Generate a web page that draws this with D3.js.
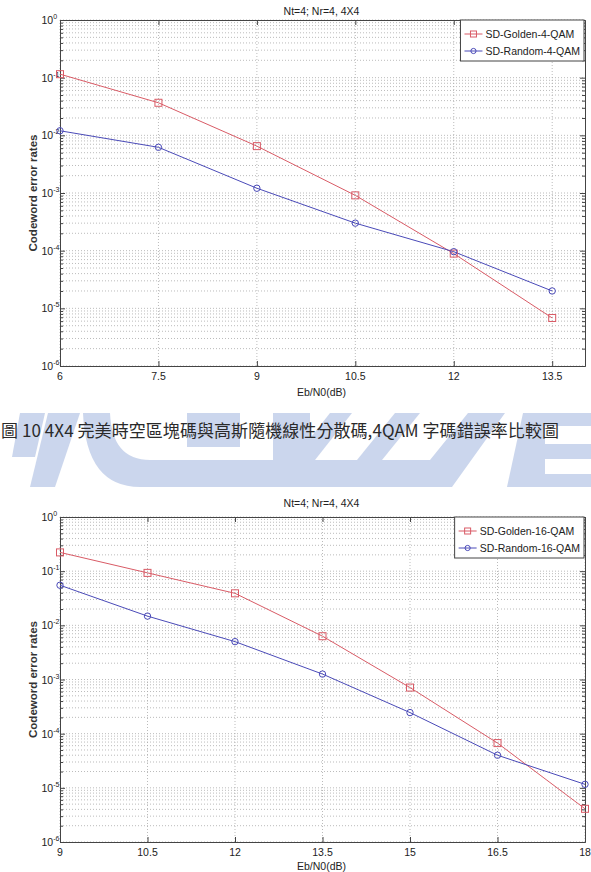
<!DOCTYPE html>
<html>
<head>
<meta charset="utf-8">
<script src="https://cdn.jsdelivr.net/npm/d3@7"></script>
<style>
  html, body { margin: 0; padding: 0; background: #fff; }
  svg { display: block; }
</style>
</head>
<body>
<div id="page"></div>
<script>
// ---- data ----
const snr4 = [6, 7.5, 9, 10.5, 12, 13.5];
const golden4 = [0.115, 0.0367, 0.0065, 9.1e-4, 8.9e-5, 6.8e-6];
const random4 = [0.012, 0.0062, 1.21e-3, 3.0e-4, 9.6e-5, 2.0e-5];
const xTicks4 = [6, 7.5, 9, 10.5, 12, 13.5];

const snr16 = [9, 10.5, 12, 13.5, 15, 16.5, 18];
const golden16 = [0.222, 0.093, 0.039, 0.0063, 7.1e-4, 6.7e-5, 4.1e-6];
const random16 = [0.055, 0.0148, 0.0050, 1.26e-3, 2.45e-4, 4.0e-5, 1.16e-5];
const xTicks16 = [9, 10.5, 12, 13.5, 15, 16.5, 18];

const yExponents = [0, -1, -2, -3, -4, -5, -6];
const chartTitle = "Nt=4; Nr=4, 4X4";
const xLabel = "Eb/N0(dB)";
const yLabel = "Codeword error rates";
const caption = "圖 10 4X4 完美時空區塊碼與高斯隨機線性分散碼,4QAM 字碼錯誤率比較圖";

const W = 591, H = 872;
const sans = "'Liberation Sans', Arial, sans-serif";

const svg = d3.select("#page").append("svg")
  .attr("width", W)
  .attr("height", H);

// faint logo watermark behind the caption
const wm = svg.append("g").attr("fill", "#bfcde9").attr("opacity", 0.8);
[
  "M20,413 L45,413 L35,457 L12,457 Z",
  "M48,413 L80,413 L55,487 L30,487 Z",
  "M83,413 L110,413 Q112,460 150,460 L430,460 L468,413 L505,413 L452,487 L140,487 Q86,487 83,413 Z",
  "M187,413 L240,413 L240,447 L187,447 Z",
  "M273,413 L310,413 L310,460 L273,460 Z",
  "M330,413 L352,413 L315,460 L293,460 Z",
  "M395,413 L420,413 L382,460 L357,460 Z",
  "M523,413 L545,413 L545,487 L507,487 Z",
  "M545,413 L591,413 L591,426 L545,426 Z",
  "M545,444 L591,444 L591,459 L545,459 Z",
  "M545,474 L591,474 L591,487 L545,487 Z"
].forEach(d => wm.append("path").attr("d", d));

svg.append("text")
  .attr("x", 1)
  .attr("y", 437)
  .attr("textLength", 558)
  .attr("lengthAdjust", "spacing")
  .style("font-family", "'Noto Sans CJK TC', 'Liberation Serif', serif")
  .style("font-size", "17px")
  .style("fill", "#2a2a2a")
  .text(caption);

function drawPanel(opts) {
  const { top, bottom, left, right, xDomain, xTicks, xs, golden, random, names, titleY, tickY, labelY } = opts;

  const x = d3.scaleLinear().domain(xDomain).range([left, right]);
  const y = d3.scaleLog().domain([1e-6, 1]).range([bottom, top]);

  const majors = yExponents.map(e => Math.pow(10, e));
  const minors = [];
  for (let e = -6; e < 0; e++) {
    for (let m = 2; m <= 9; m++) minors.push(m * Math.pow(10, e));
  }

  const g = svg.append("g");

  g.append("rect")
    .attr("x", left).attr("y", top)
    .attr("width", right - left).attr("height", bottom - top)
    .attr("fill", "#fff");

  // dotted grid
  const grid = g.append("g")
    .attr("stroke", "#aaa")
    .attr("stroke-width", 0.8)
    .attr("stroke-dasharray", "1,2");
  grid.selectAll(".gy").data(majors.concat(minors)).join("line")
    .attr("x1", left).attr("x2", right)
    .attr("y1", d => y(d)).attr("y2", d => y(d));
  grid.selectAll(".gx").data(xTicks).join("line")
    .attr("x1", d => x(d)).attr("x2", d => x(d))
    .attr("y1", top).attr("y2", bottom);

  // axes with inward ticks
  const axisColor = "#444";
  const styleAxis = sel => {
    sel.selectAll("path, line").attr("stroke", axisColor);
    sel.selectAll("text").remove();
  };
  g.append("g").attr("transform", `translate(${left},0)`)
    .call(d3.axisLeft(y).tickValues(majors).tickSizeInner(-5).tickSizeOuter(0)).call(styleAxis);
  g.append("g").attr("transform", `translate(${left},0)`)
    .call(d3.axisLeft(y).tickValues(minors).tickSizeInner(-3).tickSizeOuter(0)).call(styleAxis);
  g.append("g").attr("transform", `translate(${right},0)`)
    .call(d3.axisRight(y).tickValues(majors).tickSizeInner(-5).tickSizeOuter(0)).call(styleAxis);
  g.append("g").attr("transform", `translate(${right},0)`)
    .call(d3.axisRight(y).tickValues(minors).tickSizeInner(-3).tickSizeOuter(0)).call(styleAxis);
  g.append("g").attr("transform", `translate(0,${bottom})`)
    .call(d3.axisBottom(x).tickValues(xTicks).tickSizeInner(-5).tickSizeOuter(0)).call(styleAxis);
  g.append("g").attr("transform", `translate(0,${top})`)
    .call(d3.axisTop(x).tickValues(xTicks).tickSizeInner(-5).tickSizeOuter(0)).call(styleAxis);

  // x tick labels
  g.selectAll(".xl").data(xTicks).join("text")
    .attr("x", d => x(d))
    .attr("y", tickY)
    .attr("text-anchor", "middle")
    .style("font-family", sans)
    .style("font-size", "10.5px")
    .style("fill", "#222")
    .text(d => d);

  // y tick labels as 10^e
  const yl = g.selectAll(".yl").data(yExponents).join("text")
    .attr("x", left - 18.5)
    .attr("y", d => y(Math.pow(10, d)) + 4)
    .style("font-family", sans)
    .style("font-size", "10.5px")
    .style("fill", "#222");
  yl.append("tspan").text("10");
  yl.append("tspan")
    .attr("dy", -5)
    .style("font-size", "7px")
    .text(d => d);

  // title and axis labels
  g.append("text")
    .attr("x", (left + right) / 2 - 1)
    .attr("y", titleY)
    .attr("text-anchor", "middle")
    .style("font-family", sans)
    .style("font-size", "10.5px")
    .style("fill", "#222")
    .text(chartTitle);
  g.append("text")
    .attr("x", (left + right) / 2 - 1)
    .attr("y", labelY)
    .attr("text-anchor", "middle")
    .style("font-family", sans)
    .style("font-size", "10.5px")
    .style("fill", "#222")
    .text(xLabel);
  g.append("text")
    .attr("transform", `translate(37,${(top + bottom) / 2}) rotate(-90)`)
    .attr("text-anchor", "middle")
    .style("font-family", sans)
    .style("font-weight", "bold")
    .style("font-size", "11.5px")
    .style("fill", "#333")
    .text(yLabel);

  // series
  const red = "#d95b66", blue = "#4a4ab8";
  const line = d3.line().x(d => x(d[0])).y(d => y(d[1]));
  const gold = xs.map((v, i) => [v, golden[i]]);
  const rnd = xs.map((v, i) => [v, random[i]]);

  g.append("path").datum(gold)
    .attr("fill", "none").attr("stroke", red).attr("stroke-width", 1)
    .attr("d", line);
  g.append("path").datum(rnd)
    .attr("fill", "none").attr("stroke", blue).attr("stroke-width", 1)
    .attr("d", line);

  g.selectAll(".sq").data(gold).join("rect")
    .attr("x", d => x(d[0]) - 3.5).attr("y", d => y(d[1]) - 3.5)
    .attr("width", 7).attr("height", 7)
    .attr("fill", "none").attr("stroke", red).attr("stroke-width", 1);
  g.selectAll(".ci").data(rnd).join("circle")
    .attr("cx", d => x(d[0])).attr("cy", d => y(d[1]))
    .attr("r", 3.2)
    .attr("fill", "none").attr("stroke", blue).attr("stroke-width", 1);

  // legend
  const leg = g.append("g");
  const box = leg.append("rect").attr("fill", "#fff").attr("stroke", axisColor).attr("stroke-width", 1);
  const entries = [{ name: names[0], color: red, mark: "sq" }, { name: names[1], color: blue, mark: "ci" }];
  const texts = [];
  entries.forEach((e, i) => {
    const ty = top + 14 + i * 17;
    const t = leg.append("text")
      .attr("y", ty + 4)
      .style("font-family", sans)
      .style("font-size", "10.5px")
      .style("fill", "#222")
      .text(e.name);
    texts.push({ t, ty, e });
  });
  const tw = d3.max(texts, d => d.t.node().getComputedTextLength());
  const boxRight = right - 1;
  const boxLeft = boxRight - tw - 29;
  box.attr("x", boxLeft).attr("y", top).attr("width", boxRight - boxLeft).attr("height", 41);
  texts.forEach(({ t, ty, e }) => {
    t.attr("x", boxLeft + 25);
    leg.append("line")
      .attr("x1", boxLeft + 4).attr("x2", boxLeft + 22)
      .attr("y1", ty).attr("y2", ty)
      .attr("stroke", e.color).attr("stroke-width", 1);
    const cx = boxLeft + 13;
    if (e.mark === "sq") {
      leg.append("rect").attr("x", cx - 3).attr("y", ty - 3).attr("width", 6).attr("height", 6)
        .attr("fill", "none").attr("stroke", e.color);
    } else {
      leg.append("circle").attr("cx", cx).attr("cy", ty).attr("r", 2.6)
        .attr("fill", "none").attr("stroke", e.color);
    }
  });
}

drawPanel({
  top: 20, bottom: 366, left: 60, right: 585,
  xDomain: [6, 14], xTicks: xTicks4, xs: snr4,
  golden: golden4, random: random4,
  names: ["SD-Golden-4-QAM", "SD-Random-4-QAM"],
  titleY: 15, tickY: 380, labelY: 396
});

drawPanel({
  top: 517, bottom: 842, left: 60, right: 585,
  xDomain: [9, 18], xTicks: xTicks16, xs: snr16,
  golden: golden16, random: random16,
  names: ["SD-Golden-16-QAM", "SD-Random-16-QAM"],
  titleY: 507, tickY: 856, labelY: 870
});
</script>
</body>
</html>
